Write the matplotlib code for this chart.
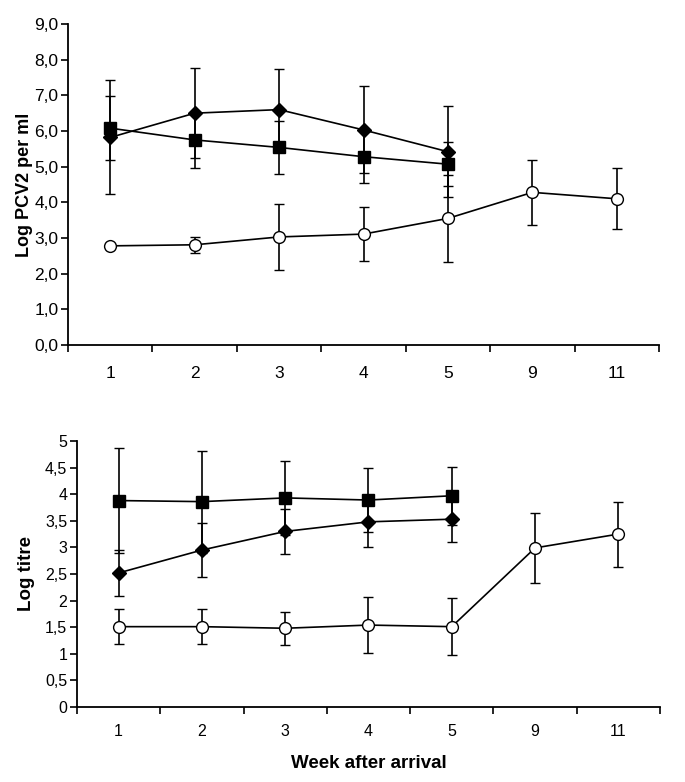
#!/usr/bin/env python3

"""PCV2 viral load (top) and antibody titre (bottom) per week after arrival."""

import matplotlib
matplotlib.use("Agg")
import matplotlib.pyplot as plt
import numpy as np

plt.rcParams["font.family"] = ["Liberation Sans", "DejaVu Sans"]

weeks = ["1", "2", "3", "4", "5", "9", "11"]

# top panel: log PCV2 per ml
pcv_square = [6.08, 5.75, 5.54, 5.28, 5.07]
pcv_square_err = [0.90, 0.79, 0.75, 0.73, 0.62]
pcv_diamond = [5.82, 6.50, 6.60, 6.03, 5.42]
pcv_diamond_err = [1.60, 1.27, 1.13, 1.22, 1.28]
pcv_circle = [2.78, 2.81, 3.03, 3.11, 3.55, 4.28, 4.10]
pcv_circle_err = [0.0, 0.23, 0.93, 0.75, 1.22, 0.92, 0.86]
pcv_yticks = [0, 1, 2, 3, 4, 5, 6, 7, 8, 9]
pcv_ylabels = ["0,0", "1,0", "2,0", "3,0", "4,0", "5,0", "6,0", "7,0", "8,0", "9,0"]

# bottom panel: log titre
titre_square = [3.88, 3.86, 3.93, 3.89, 3.97]
titre_square_err = [0.99, 0.96, 0.70, 0.60, 0.55]
titre_diamond = [2.52, 2.95, 3.30, 3.48, 3.53]
titre_diamond_err = [0.44, 0.50, 0.42, 0.48, 0.43]
titre_circle = [1.51, 1.51, 1.48, 1.54, 1.51, 2.99, 3.25]
titre_circle_err = [0.33, 0.33, 0.31, 0.53, 0.53, 0.66, 0.61]
titre_yticks = [0, 0.5, 1, 1.5, 2, 2.5, 3, 3.5, 4, 4.5, 5]
titre_ylabels = ["0", "0,5", "1", "1,5", "2", "2,5", "3", "3,5", "4", "4,5", "5"]


def draw_series(ax, values, errors, marker, face, size):
	x = np.arange(len(values)) + 0.5
	ax.errorbar(x, values, yerr=errors, color="black", linewidth=1.2,
		elinewidth=1.2, capsize=3.7, capthick=1.2, marker=marker,
		markerfacecolor=face, markeredgecolor="black", markeredgewidth=1.0,
		markersize=size, zorder=3)


def style_axis(ax, yticks, ylabels, ymax, tick_size, xpad):
	ax.set_xlim(0, len(weeks))
	ax.set_ylim(0, ymax)
	for side in ("top", "right"):
		ax.spines[side].set_visible(False)
	ax.spines["left"].set_linewidth(1.3)
	ax.spines["bottom"].set_linewidth(1.3)
	ax.set_xticks(np.arange(len(weeks) + 1))
	ax.set_xticklabels([])
	ax.set_xticks(np.arange(len(weeks)) + 0.5, minor=True)
	ax.set_xticklabels(weeks, minor=True, fontsize=tick_size)
	ax.tick_params(axis="x", which="major", direction="out", length=5, width=1.2)
	ax.tick_params(axis="x", which="minor", length=0, pad=xpad)
	ax.set_yticks(yticks)
	ax.set_yticklabels(ylabels, fontsize=tick_size)
	ax.tick_params(axis="y", direction="out", length=5, width=1.2, pad=2)


fig = plt.figure(figsize=(6.85, 7.82), dpi=100)

ax_top = fig.add_axes([0.0993, 0.5588, 0.8628, 0.4105])
draw_series(ax_top, pcv_circle, pcv_circle_err, "o", "white", 8.5)
draw_series(ax_top, pcv_diamond, pcv_diamond_err, "D", "black", 7)
draw_series(ax_top, pcv_square, pcv_square_err, "s", "black", 8.3)
style_axis(ax_top, pcv_yticks, pcv_ylabels, 9, 12.5, 15)
ax_top.set_ylabel("Log PCV2 per ml", fontsize=13, fontweight="bold", labelpad=1)

ax_bot = fig.add_axes([0.1124, 0.0959, 0.8511, 0.3402])
draw_series(ax_bot, titre_circle, titre_circle_err, "o", "white", 8.5)
draw_series(ax_bot, titre_diamond, titre_diamond_err, "D", "black", 7)
draw_series(ax_bot, titre_square, titre_square_err, "s", "black", 8.3)
style_axis(ax_bot, titre_yticks, titre_ylabels, 5, 11.5, 12)
ax_bot.set_ylabel("Log titre", fontsize=13.5, fontweight="bold", labelpad=7)
ax_bot.set_xlabel("Week after arrival", fontsize=13.5, fontweight="bold", labelpad=12)

fig.savefig("out.png", dpi=100)
